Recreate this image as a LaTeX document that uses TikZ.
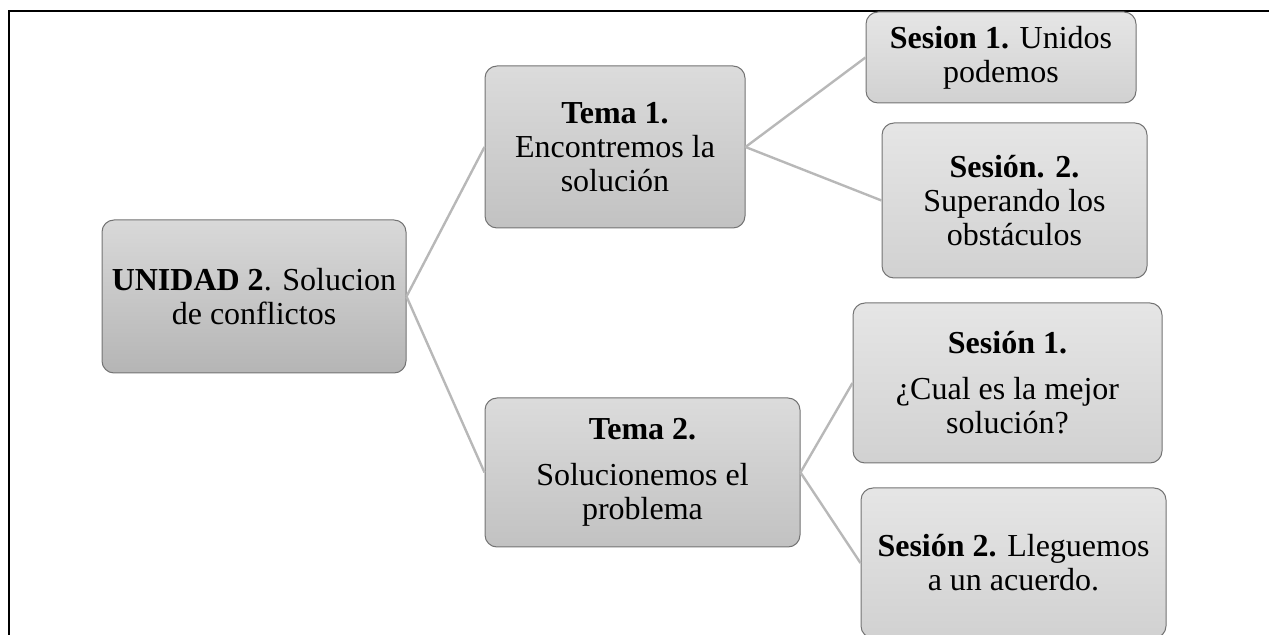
\documentclass[tikz,border=0pt]{standalone}
\usepackage{fontspec}
\setmainfont{Liberation Serif}
\usepackage{tikz}
\usetikzlibrary{positioning,calc}
\tikzset{
    unit-box/.style={
        rectangle,
        rounded corners=6pt,
        draw=black!55,
        line width=0.5pt,
        top color=gray!30,
        bottom color=gray!58,
        align=center,
        inner sep=0pt,
        font=\fontsize{16}{17}\selectfont
    },
    topic-box/.style={
        unit-box,
        top color=gray!28,
        bottom color=gray!48
    },
    session-box/.style={
        unit-box,
        top color=gray!20,
        bottom color=gray!36
    },
    every edge/.style={
        draw,
        -,
        line width=1.2pt,
        color=black!28
    },
}

\begin{document}
\begin{tikzpicture}[x=0.5pt,y=-0.5pt]
        \useasboundingbox (0,0) rectangle (1269,635);
        % frame
        \draw[line width=1pt] (1269,11) -- (9,11) -- (9,635);
        % nodes
        \node [unit-box,minimum width=152pt,minimum height=76.5pt] (U) at (254,296.5)
            {\textbf{UNIDAD 2}. Solucion\\de conflictos};
        \node [topic-box,minimum width=130pt,minimum height=81pt] (T1) at (615,147)
            {\textbf{Tema 1.}\\Encontremos la\\solución};
        \node [topic-box,minimum width=157.5pt,minimum height=74.5pt] (T2) at (642.5,472.5)
            {\textbf{Tema 2.}\\[6pt]Solucionemos el\\problema};
        \node [session-box,minimum width=135pt,minimum height=45.5pt] (S11) at (1001,57.5)
            {\textbf{Sesion 1.} Unidos\\podemos};
        \node [session-box,minimum width=132.5pt,minimum height=77.5pt] (S12) at (1014.5,200.5)
            {\textbf{Sesión. 2.}\\Superando los\\obstáculos};
        \node [session-box,minimum width=154.5pt,minimum height=80pt] (S21) at (1007.5,383)
            {\textbf{Sesión 1.}\\[6pt]¿Cual es la mejor\\solución?};
        \node [session-box,minimum width=152.5pt,minimum height=75pt] (S22) at (1013.5,563)
            {\textbf{Sesión 2.} Lleguemos\\a un acuerdo.};
        % links
        \draw (U.east) edge (T1.west);
        \draw (U.east) edge (T2.west);
        \draw (T1.east) edge (S11.west);
        \draw (T1.east) edge (S12.west);
        \draw (T2.east) edge (S21.west);
        \draw (T2.east) edge (S22.west);
    \end{tikzpicture}
\end{document}
